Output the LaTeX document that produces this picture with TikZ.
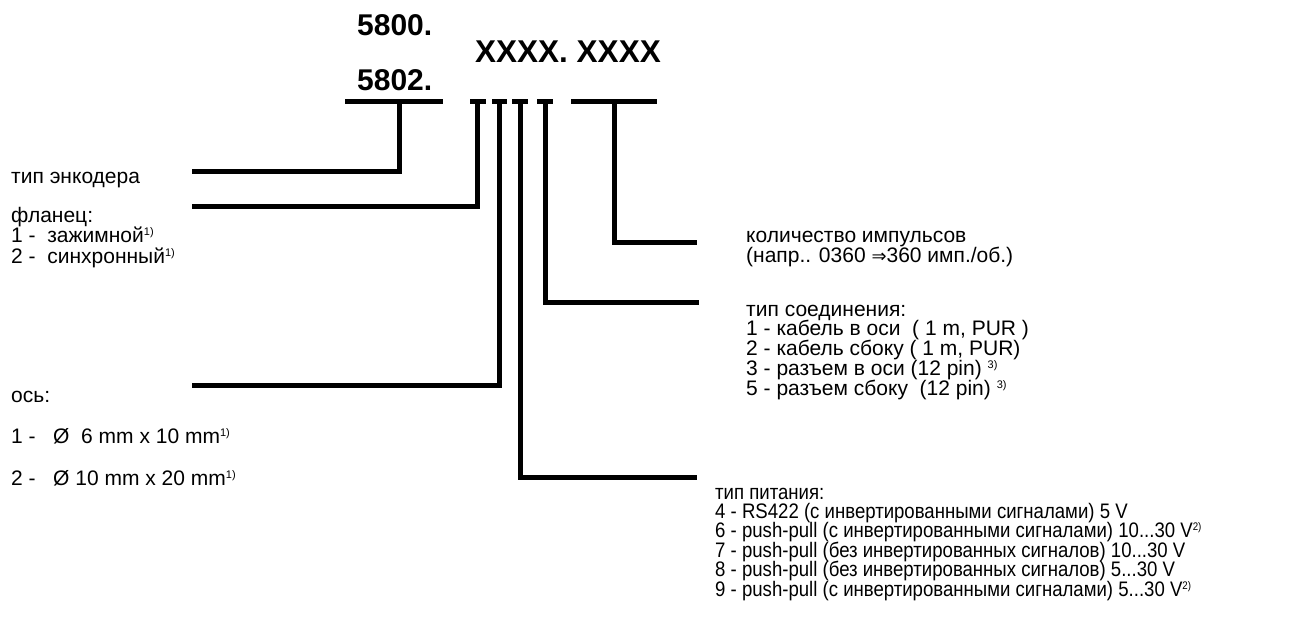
\documentclass[tikz,border=0pt]{standalone}
\usepackage{fontspec}
\setmainfont{Liberation Sans}
\newfontfamily\narrowfont[FakeStretch=0.885]{Liberation Sans}
\newfontfamily\arrowfont{DejaVu Sans}
\newcommand\supnote[1]{\raisebox{7pt}{\fontsize{11}{11}\selectfont #1}}
\newcommand\tightlines{\lineskiplimit=-20pt\lineskip=0pt}
\begin{document}
\begin{tikzpicture}[x=1pt,y=-1pt,
  lead/.style={line width=5pt, line cap=butt, line join=miter},
  bigcode/.style={font=\fontsize{30}{30}\selectfont\bfseries, inner sep=0pt, anchor=base west},
  lbl/.style={font=\fontsize{21}{20}\selectfont\tightlines, inner sep=0pt, anchor=base west, align=left}]
\useasboundingbox (0,0) rectangle (1295,619);

% code text
\node[bigcode] (c5800) at (357,35) {5800.};
\node[bigcode, font=\fontsize{31.5}{31.5}\selectfont\bfseries] (cx) at (475,62) {XXXX. XXXX};
\node[bigcode] (c5802) at (357,90) {5802.};

% bars under the code
\coordinate (b1l) at (345,101); \coordinate (b1r) at (443,101); \coordinate (b1) at (399,101);
\coordinate (t1l) at (470,101); \coordinate (t1r) at (486,101); \coordinate (t1) at (477,101);
\coordinate (t2l) at (492,101); \coordinate (t2r) at (507,101); \coordinate (t2) at (499,101);
\coordinate (t3l) at (512,101); \coordinate (t3r) at (528,101); \coordinate (t3) at (520,101);
\coordinate (t4l) at (537,101); \coordinate (t4r) at (553,101); \coordinate (t4) at (545,101);
\coordinate (b2l) at (571,101); \coordinate (b2r) at (657,101); \coordinate (b2) at (614,101);
\foreach \b in {b1,t1,t2,t3,t4,b2} \draw[lead] (\b l) -- (\b r);

% labels (anchor = baseline of the last line)
\node[lbl] (enc) at (11,183) {тип энкодера};
\node[lbl, font=\fontsize{21}{20.5}\selectfont\tightlines] (flange) at (11,263) {фланец:\\
1 -~ зажимной\supnote{1)}\\
2 -~ синхронный\supnote{1)}};
\node[lbl, font=\fontsize{21}{41.5}\selectfont\tightlines] (axis) at (11,485) {ось:\\
1 -~~ Ø~ 6 mm x 10 mm\supnote{1)}\\
2 -~~ Ø 10 mm x 20 mm\supnote{1)}};
\node[lbl] (pulses) at (746,262) {количество импульсов\\
(напр.. 0360 {\arrowfont\fontsize{18}{18}\selectfont ⇒}360 имп./об.)};
\node[lbl, font=\fontsize{21}{19.75}\selectfont\tightlines] (conn) at (746,395) {тип соединения:\\
1 - кабель в оси~ ( 1 m, PUR )\\
2 - кабель сбоку ( 1 m, PUR)\\
3 - разъем в оси (12 pin) \supnote{3)}\\
5 - разъем сбоку~ (12 pin) \supnote{3)}};
\node[lbl, font=\narrowfont\fontsize{21}{19.4}\selectfont\tightlines] (power) at (715,596) {тип питания:\\
4 - RS422 (с инвертированными сигналами) 5 V\\
6 - push-pull (с инвертированными сигналами) 10...30 V\supnote{2)}\\
7 - push-pull (без инвертированных сигналов) 10...30 V\\
8 - push-pull (без инвертированных сигналов) 5...30 V\\
9 - push-pull (с инвертированными сигналами) 5...30 V\supnote{2)}};

% leader ends
\coordinate (e1) at (192,171);
\coordinate (e2) at (192,206);
\coordinate (e3) at (192,385);
\coordinate (e4) at (697,477);
\coordinate (e5) at (699,302);
\coordinate (e6) at (697,242);

\draw[lead] (b1) |- (e1);
\draw[lead] (t1) |- (e2);
\draw[lead] (t2) |- (e3);
\draw[lead] (t3) |- (e4);
\draw[lead] (t4) |- (e5);
\draw[lead] (b2) |- (e6);
\end{tikzpicture}
\end{document}
